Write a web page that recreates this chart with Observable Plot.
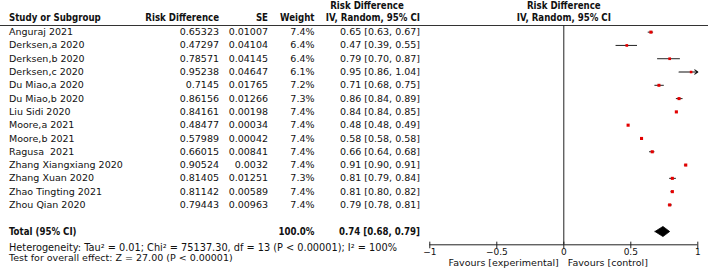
<!DOCTYPE html>
<html>
<head>
<meta charset="utf-8">
<script src="https://cdn.jsdelivr.net/npm/d3@7"></script>
<script src="https://cdn.jsdelivr.net/npm/@observablehq/plot@0.6"></script>
<style>
  html, body { margin: 0; padding: 0; background: #fff; }
  svg text { white-space: pre; }
</style>
</head>
<body>
<div id="chart"></div>
<script>
// ---- data ----
const studies = ["Anguraj 2021", "Derksen,a 2020", "Derksen,b 2020", "Derksen,c 2020", "Du Miao,a 2020", "Du Miao,b 2020", "Liu Sidi 2020", "Moore,a 2021", "Moore,b 2021", "Ragusa  2021", "Zhang Xiangxiang 2020", "Zhang Xuan 2020", "Zhao Tingting 2021", "Zhou Qian 2020"];
const rdText = ["0.65323", "0.47297", "0.78571", "0.95238", "0.7145", "0.86156", "0.84161", "0.48477", "0.57989", "0.66015", "0.90524", "0.81405", "0.81142", "0.79443"];
const seText = ["0.01007", "0.04104", "0.04145", "0.04647", "0.01765", "0.01266", "0.00198", "0.00034", "0.00042", "0.00841", "0.0032", "0.01251", "0.00589", "0.00963"];
const weights = [7.4, 6.4, 6.4, 6.1, 7.2, 7.3, 7.4, 7.4, 7.4, 7.4, 7.4, 7.3, 7.4, 7.4];
const est = [0.65, 0.47, 0.79, 0.95, 0.71, 0.86, 0.84, 0.48, 0.58, 0.66, 0.91, 0.81, 0.81, 0.79];
const ciLow = [0.63, 0.39, 0.70, 0.86, 0.68, 0.84, 0.84, 0.48, 0.58, 0.64, 0.90, 0.79, 0.80, 0.78];
const ciHigh = [0.67, 0.55, 0.87, 1.04, 0.75, 0.89, 0.85, 0.49, 0.58, 0.68, 0.91, 0.84, 0.82, 0.81];
const ciText = ["0.65 [0.63, 0.67]", "0.47 [0.39, 0.55]", "0.79 [0.70, 0.87]", "0.95 [0.86, 1.04]", "0.71 [0.68, 0.75]", "0.86 [0.84, 0.89]", "0.84 [0.84, 0.85]", "0.48 [0.48, 0.49]", "0.58 [0.58, 0.58]", "0.66 [0.64, 0.68]", "0.91 [0.90, 0.91]", "0.81 [0.79, 0.84]", "0.81 [0.80, 0.82]", "0.79 [0.78, 0.81]"];
const total = {label: "Total (95% CI)", weight: "100.0%", est: 0.74, lo: 0.68, hi: 0.79, text: "0.74 [0.68, 0.79]"};
const heterogeneity = "Heterogeneity: Tau² = 0.01; Chi² = 75137.30, df = 13 (P < 0.00001); I² = 100%";
const overall = "Test for overall effect: Z = 27.00 (P < 0.00001)";
const axisTicks = [-1, -0.5, 0, 0.5, 1];
const axisTickLabels = ["−1", "−0.5", "0", "0.5", "1"];
const favours = ["Favours [experimental]", "Favours [control]"];

// ---- build ----
const rows = studies.map((s, i) => ({
  i, study: s, rdText: rdText[i], se: seText[i], w: weights[i],
  wText: weights[i].toFixed(1) + "%", est: est[i], lo: ciLow[i], hi: ciHigh[i], ci: ciText[i]
}));
const xMax = 1, xMin = -1;
const inside = rows.filter(d => d.hi <= xMax && d.lo >= xMin);
const clipped = rows.filter(d => d.hi > xMax);
const totalRow = studies.length + 1; // one blank row before total
const axisRow = totalRow + 1;
const dh = 0.38;
const diamond = [
  {x: total.lo, y: totalRow}, {x: total.est, y: totalRow - dh},
  {x: total.hi, y: totalRow}, {x: total.est, y: totalRow + dh}, {x: total.lo, y: totalRow}
];

const col = {study: 8.5, rd: 218.5, se: 267.5, w: 314, ci: 419.5, ciHead: 366.5};
const txt = "#111";
const hdr1 = -2, hdr2 = -1.1;
const boldFont = "'DejaVu Sans Condensed', 'DejaVu Sans', sans-serif";
const bold = {fontWeight: "bold", fontFamily: boldFont, fontSize: 9.6};

const leftText = (data, opts) => Plot.text(data, {frameAnchor: "left", fill: txt, ...opts});

const chart = Plot.plot({
  width: 708, height: 271,
  marginTop: 25, marginBottom: 26.7, marginLeft: 0, marginRight: 0,
  x: {domain: [xMin, xMax], range: [429.3, 697.3], axis: null},
  y: {domain: [-0.5, axisRow], reverse: true, axis: null},
  r: {type: "linear", domain: [0, 7.4], range: [0, 1.75]},
  style: {fontFamily: "'DejaVu Sans', sans-serif", fontSize: "9.5px", background: "#fff", overflow: "visible"},
  marks: [
    // header rule & zero line
    Plot.ruleY([-0.5], {stroke: "#333", strokeWidth: 1}),
    Plot.ruleX([0], {stroke: "#222", strokeWidth: 1}),
    // headers
    leftText([0], {y: hdr2, dx: col.study, text: () => "Study or Subgroup", textAnchor: "start", ...bold}),
    leftText([0], {y: hdr2, dx: col.rd, text: () => "Risk Difference", textAnchor: "end", ...bold}),
    leftText([0], {y: hdr2, dx: col.se, text: () => "SE", textAnchor: "end", ...bold}),
    leftText([0], {y: hdr2, dx: col.w, text: () => "Weight", textAnchor: "end", ...bold}),
    leftText([0], {y: hdr1, dx: col.ciHead, text: () => "Risk Difference", textAnchor: "middle", ...bold}),
    leftText([0], {y: hdr2, dx: col.ci, text: () => "IV, Random, 95% CI", textAnchor: "end", ...bold}),
    Plot.text([0], {x: 0, y: hdr1, text: () => "Risk Difference", fill: txt, ...bold}),
    Plot.text([0], {x: 0, y: hdr2, text: () => "IV, Random, 95% CI", fill: txt, ...bold}),
    // table rows
    leftText(rows, {y: "i", dx: col.study, text: "study", textAnchor: "start"}),
    leftText(rows, {y: "i", dx: col.rd, text: "rdText", textAnchor: "end"}),
    leftText(rows, {y: "i", dx: col.se, text: "se", textAnchor: "end"}),
    leftText(rows, {y: "i", dx: col.w, text: "wText", textAnchor: "end"}),
    leftText(rows, {y: "i", dx: col.ci, text: "ci", textAnchor: "end"}),
    // total
    leftText([total], {y: totalRow, dx: col.study, text: "label", textAnchor: "start", ...bold}),
    leftText([total], {y: totalRow, dx: col.w, text: "weight", textAnchor: "end", ...bold}),
    leftText([total], {y: totalRow, dx: col.ci, text: "text", textAnchor: "end", ...bold}),
    leftText([heterogeneity], {y: axisRow + 0.2, dx: col.study, text: d => d, textAnchor: "start", fontSize: 9.75}),
    leftText([overall], {y: axisRow + 0.96, dx: col.study, text: d => d, textAnchor: "start"}),
    // forest marks
    Plot.ruleY(inside, {y: "i", x1: "lo", x2: "hi", stroke: "#222", strokeWidth: 1}),
    Plot.arrow(clipped, {y1: "i", y2: "i", x1: "lo", x2: d => Math.min(d.hi, xMax), stroke: "#111", strokeWidth: 1.1, headLength: 5, headAngle: 70}),
    Plot.dot(rows, {x: "est", y: "i", r: "w", symbol: "square", fill: "#e30000", stroke: "none"}),
    Plot.line(diamond, {x: "x", y: "y", fill: "#000", stroke: "#000", strokeWidth: 0.8}),
    // axis
    Plot.ruleY([axisRow], {x1: xMin, x2: xMax, stroke: "#222", strokeWidth: 1}),
    Plot.ruleX(axisTicks, {x: d => d, y1: axisRow - 0.2, y2: axisRow + 0.3, stroke: "#222", strokeWidth: 1}),
    Plot.text(axisTicks, {x: d => d, y: axisRow, dy: 7.6, fontSize: 9, text: (d, i) => axisTickLabels[i], fill: txt}),
    Plot.text([favours[0]], {x: 0, y: axisRow, dy: 18.4, dx: -5, text: d => d, textAnchor: "end", fill: txt}),
    Plot.text([favours[1]], {x: 0, y: axisRow, dy: 18.4, dx: 4, text: d => d, textAnchor: "start", fill: txt})
  ]
});
document.getElementById("chart").appendChild(chart);
</script>
</body>
</html>
